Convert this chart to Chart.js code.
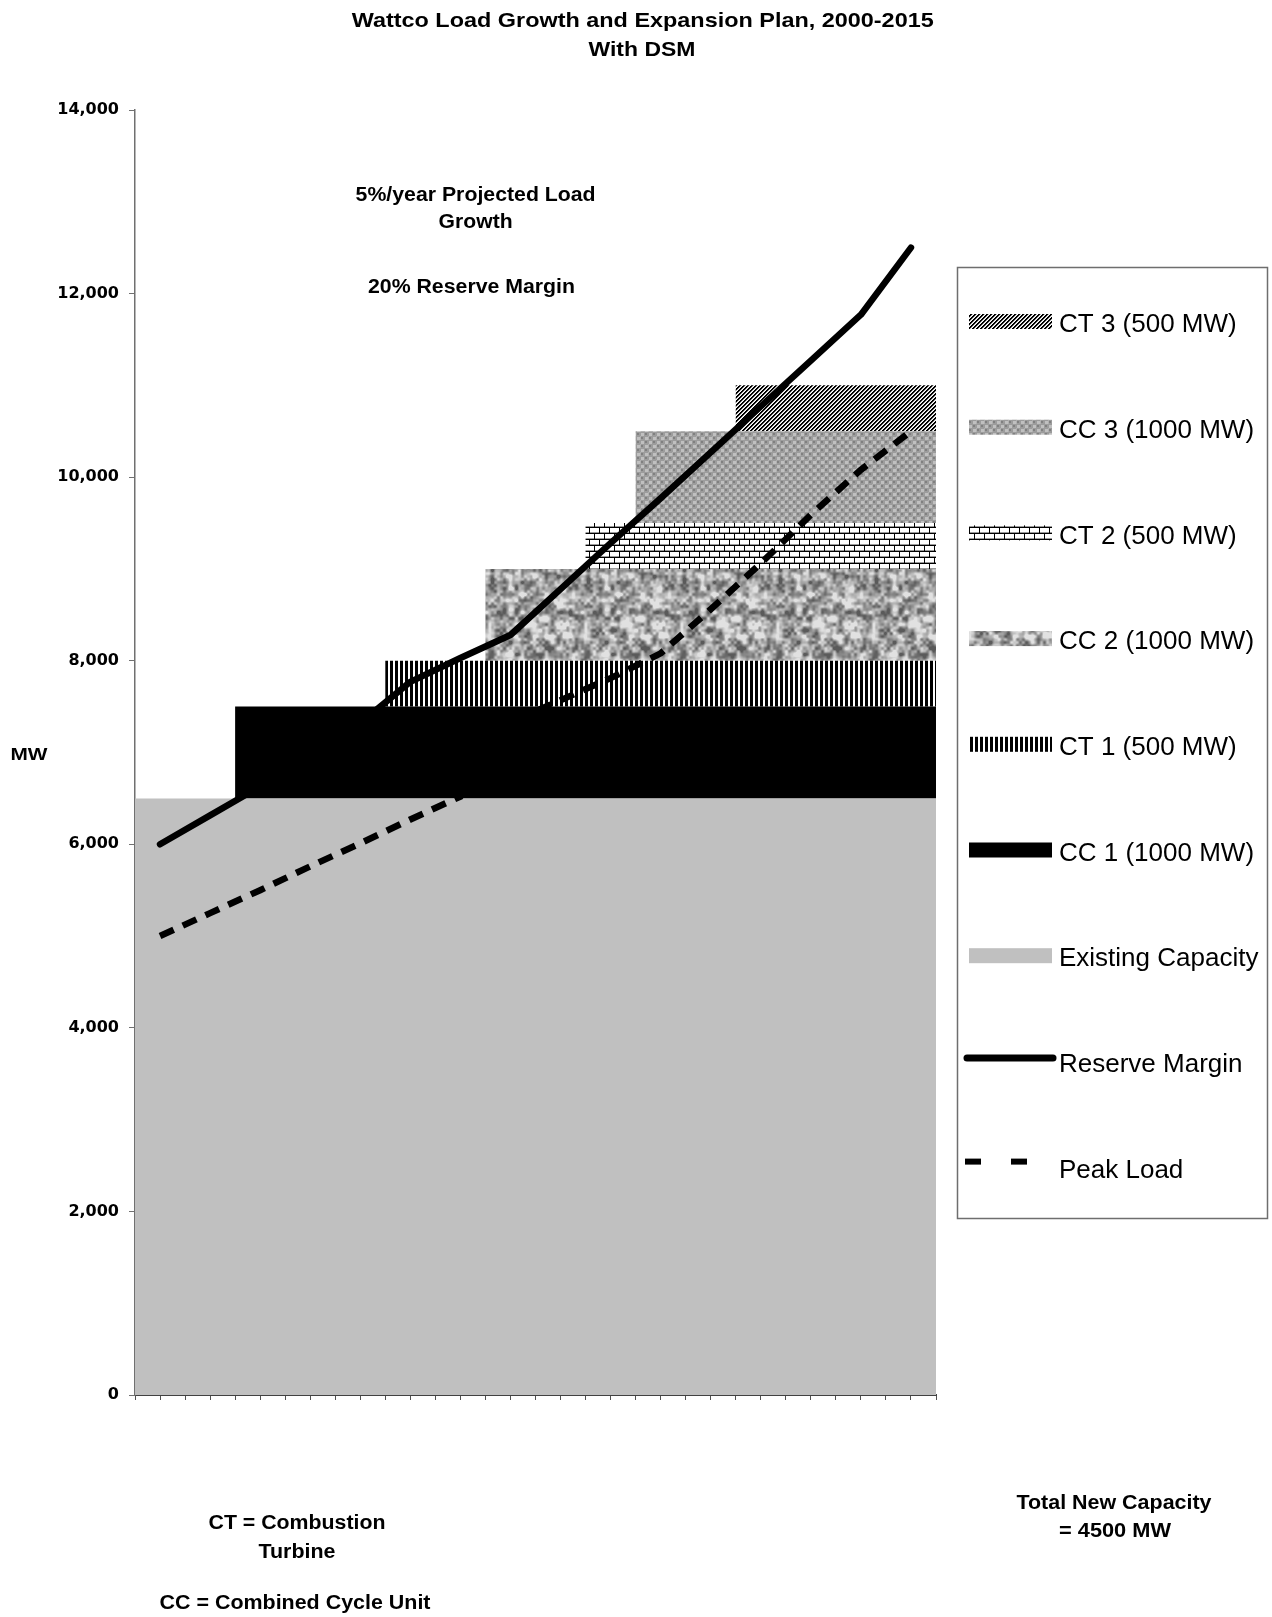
<!DOCTYPE html>
<html>
<head>
<meta charset="utf-8">
<script src="https://cdn.jsdelivr.net/npm/chart.js@4.4.1/dist/chart.umd.min.js"></script>
<style>
html,body{margin:0;padding:0;background:#ffffff;}
canvas{display:block;}
</style>
</head>
<body>
<canvas id="chart" width="1272" height="1617"></canvas>
<script>
// ---------------- DATA ----------------
const years = [2000,2001,2002,2003,2004,2005,2006,2007,2008,2009,2010,2011,2012,2013,2014,2015];
const reserveMargin = [6000,6315,6630,6970,7320,7770,8030,8280,8780,9280,9770,10270,10770,11270,11770,12500];
const peakLoad = [5000,5250,5500,5760,6010,6270,6520,7330,7570,7810,8080,8560,9060,9590,10080,10500];

// capacity steps (value holds from each step year onward)
const stepYears = [1999.5,2001.5,2004.5,2006.5,2008.5,2009.5,2011.5,2015.5];
const existingCapacity = [6500,6500,6500,6500,6500,6500,6500,6500];
const cc1 = [0,1000,1000,1000,1000,1000,1000,1000];
const ct1 = [0,0,500,500,500,500,500,500];
const cc2 = [0,0,0,1000,1000,1000,1000,1000];
const ct2 = [0,0,0,0,500,500,500,500];
const cc3 = [0,0,0,0,0,1000,1000,1000];
const ct3 = [0,0,0,0,0,0,500,500];

const areaNames = ['Existing Capacity','CC 1 (1000 MW)','CT 1 (500 MW)','CC 2 (1000 MW)','CT 2 (500 MW)','CC 3 (1000 MW)','CT 3 (500 MW)'];
const lineNames = ['Reserve Margin','Peak Load'];
const yTicks = [0,2000,4000,6000,8000,10000,12000,14000];
const xTickStep = 0.5;

const titleLines = ['Wattco Load Growth and Expansion Plan, 2000-2015','With DSM'];
const noteGrowth = ['5%/year Projected Load','Growth'];
const noteReserve = '20% Reserve Margin';
const noteCT = ['CT = Combustion','Turbine'];
const noteCC = 'CC = Combined Cycle Unit';
const noteTotal = ['Total New Capacity','= 4500 MW'];
const yAxisTitle = 'MW';

// ---------------- PATTERNS ----------------
function tile(w,h,fn){const c=document.createElement('canvas');c.width=w;c.height=h;const x=c.getContext('2d');fn(x,w,h);return c;}
function texHash(i,j,s){let h=(i*374761393+j*668265263+s*2246822519)|0;h=Math.imul(h^(h>>>13),1274126177);h=h^(h>>>16);return (h>>>0)/4294967295;}
const patCtx=document.getElementById('chart').getContext('2d');
const patCT3=patCtx.createPattern(tile(4,4,(g,w,h)=>{const im=g.createImageData(w,h);for(let y=0;y<h;y++)for(let x=0;x<w;x++){const k=(x+y)%4;const v=k===0||k===1?0:(k===2?190:255);const o=(y*w+x)*4;im.data[o]=im.data[o+1]=im.data[o+2]=v;im.data[o+3]=255;}g.putImageData(im,0,0);}),'repeat');
const patCC3=patCtx.createPattern(tile(8,8,(g)=>{g.fillStyle='#9c9c9c';g.fillRect(0,0,8,8);g.fillStyle='#c0c0c0';g.fillRect(1,1,3,3);g.fillRect(5,5,3,3);g.fillStyle='#b0b0b0';g.fillRect(0,4,1,4);g.fillStyle='#808080';g.fillRect(5,1,2,2);g.fillRect(1,5,2,2);}),'repeat');
const patCT2=patCtx.createPattern(tile(10,12,(g)=>{g.fillStyle='#fff';g.fillRect(0,0,10,12);g.fillStyle='#000';g.fillRect(0,5,10,1);g.fillRect(0,11,10,1);g.fillRect(9,0,1,5);g.fillRect(4,6,1,5);g.fillStyle='#9a9a9a';g.fillRect(0,4,9,1);g.fillRect(0,10,4,1);g.fillRect(5,10,5,1);}),'repeat');
const patCC2=patCtx.createPattern(tile(96,96,(g,w,h)=>{const im=g.createImageData(w,h);
  function vn(x,y,cell,s){const n=w/cell;const gx=x/cell,gy=y/cell;const x0=Math.floor(gx),y0=Math.floor(gy);const fx=gx-x0,fy=gy-y0;const sx=fx*fx*(3-2*fx),sy=fy*fy*(3-2*fy);
    const a=texHash(x0%n,y0%n,s),b=texHash((x0+1)%n,y0%n,s),c=texHash(x0%n,(y0+1)%n,s),d=texHash((x0+1)%n,(y0+1)%n,s);return a+(b-a)*sx+(c-a)*sy+(a-b-c+d)*sx*sy;}
  for(let y=0;y<h;y++)for(let x=0;x<w;x++){const v=0.55*vn(x,y,6,1)+0.45*vn(x,y,3,2);let gr=Math.round(165+(v-0.5)*230);gr=Math.max(90,Math.min(225,gr));const o=(y*w+x)*4;im.data[o]=im.data[o+1]=im.data[o+2]=gr;im.data[o+3]=255;}
  g.putImageData(im,0,0);}),'repeat');
const patCT1=patCtx.createPattern(tile(5,1,(g)=>{g.fillStyle='#fff';g.fillRect(0,0,5,1);g.fillStyle='#000';g.fillRect(0,0,3,1);}),'repeat');
const areaFills=['#c0c0c0','#000000',patCT1,patCC2,patCT2,patCC3,patCT3];

// ---------------- DATASETS ----------------
const areaSeries=[existingCapacity,cc1,ct1,cc2,ct2,cc3,ct3];
const datasets=areaSeries.map((vals,i)=>({
  type:'line',label:areaNames[i],
  data:stepYears.map((x,k)=>({x:x,y:vals[k]})),
  stepped:'before',fill:i===0?'origin':'-1',
  backgroundColor:areaFills[i],borderWidth:0,borderColor:'rgba(0,0,0,0)',
  pointRadius:0,stack:'cap',order:2
}));
datasets.push({type:'line',label:lineNames[0],data:years.map((x,k)=>({x:x,y:reserveMargin[k]})),
  borderColor:'#000',borderWidth:6.5,borderCapStyle:'round',borderJoinStyle:'round',fill:false,pointRadius:0,stack:'rm',order:0,tension:0});
datasets.push({type:'line',label:lineNames[1],data:years.map((x,k)=>({x:x,y:peakLoad[k]})),
  borderColor:'#000',borderWidth:6.5,borderDash:[15,10],borderCapStyle:'butt',borderJoinStyle:'miter',fill:false,pointRadius:0,stack:'pl',order:1,tension:0});

// ---------------- TEXT + LEGEND PLUGIN ----------------
function drawText(ctx,text,cx,cy,font,width,align){
  ctx.save();ctx.font=font;const w=ctx.measureText(text).width;const sx=width?width/w:1;
  ctx.translate(cx,cy);ctx.scale(sx,1);ctx.textAlign=align||'center';ctx.textBaseline='middle';ctx.fillStyle='#000';
  ctx.fillText(text,0,0);ctx.restore();
}
const BOLD_T='bold 21px "Liberation Sans", Arial, sans-serif';
const BOLD='bold 19.5px "Liberation Sans", Arial, sans-serif';
const decor={
  id:'decor',
  afterDraw(chart){
    const ctx=chart.ctx;
    drawText(ctx,titleLines[0],642.7,21,BOLD_T,582);
    drawText(ctx,titleLines[1],642,50,BOLD_T,107);
    drawText(ctx,noteGrowth[0],475.6,196,BOLD,240);
    drawText(ctx,noteGrowth[1],475.6,223,BOLD,74);
    drawText(ctx,noteReserve,471.5,288,BOLD,207);
    drawText(ctx,yAxisTitle,29,755,'bold 17px "Liberation Sans", Arial, sans-serif',37);
    drawText(ctx,noteCT[0],297,1524,BOLD,177);
    drawText(ctx,noteCT[1],297,1553,BOLD,77);
    drawText(ctx,noteCC,295,1604,BOLD,271);
    drawText(ctx,noteTotal[0],1114,1504,BOLD,195);
    drawText(ctx,noteTotal[1],1115,1532,BOLD,112);

    // legend box
    ctx.save();
    ctx.strokeStyle='#6e6e6e';ctx.lineWidth=1.5;
    ctx.strokeRect(957.5,267.5,310,951);
    const order=[6,5,4,3,2,1,0];
    const y0=325,dy=105.7;
    const sx0=969,sw=83;
    order.forEach((di,k)=>{
      const cy=y0+k*dy;
      ctx.fillStyle=areaFills[di];
      ctx.fillRect(sx0,cy-11,sw,15);
      ctx.font='26px "Liberation Sans", Arial, sans-serif';ctx.fillStyle='#000';ctx.textAlign='left';ctx.textBaseline='middle';
      ctx.fillText(areaNames[di],1059,cy);
    });
    let cy=y0+7*dy;
    ctx.strokeStyle='#000';ctx.lineWidth=7;ctx.lineCap='round';
    ctx.beginPath();ctx.moveTo(967,cy-7);ctx.lineTo(1053,cy-7);ctx.stroke();
    ctx.fillStyle='#000';ctx.font='26px "Liberation Sans", Arial, sans-serif';ctx.textAlign='left';ctx.textBaseline='middle';
    ctx.fillText(lineNames[0],1059,cy);
    cy=y0+8*dy;
    ctx.fillRect(965,cy-12,16,6);ctx.fillRect(1011,cy-12,16,6);
    ctx.fillText(lineNames[1],1059,cy);
    ctx.restore();
  }
};

new Chart(document.getElementById('chart'),{
  type:'line',
  data:{datasets:datasets},
  options:{
    responsive:false,animation:false,
    layout:{padding:{top:110,right:336,left:0,bottom:0}},
    plugins:{legend:{display:false},tooltip:{enabled:false},title:{display:false}},
    elements:{line:{tension:0}},
    scales:{
      x:{type:'linear',min:stepYears[0],max:stepYears[stepYears.length-1],
        afterFit(s){s.height=222;},
        afterBuildTicks(s){const t=[];for(let v=s.min;v<=s.max+1e-9;v+=xTickStep)t.push({value:v});s.ticks=t;},
        ticks:{display:false},
        grid:{drawOnChartArea:false,drawTicks:true,tickLength:5,color:'#505050',lineWidth:1},
        border:{display:true,color:'#404040',width:2}
      },
      y:{type:'linear',stacked:true,min:0,max:14000,
        afterFit(s){s.width=135;},
        afterBuildTicks(s){s.ticks=yTicks.map(v=>({value:v}));},
        ticks:{color:'#000',padding:10,font:{family:'"DejaVu Sans"',weight:'bold',size:16},
          callback:(v)=>v.toLocaleString('en-US')},
        grid:{drawOnChartArea:false,drawTicks:true,tickLength:6,color:'#707070'},
        border:{display:true,color:'#707070',width:1.5}
      }
    }
  },
  plugins:[decor]
});
</script>
</body>
</html>
